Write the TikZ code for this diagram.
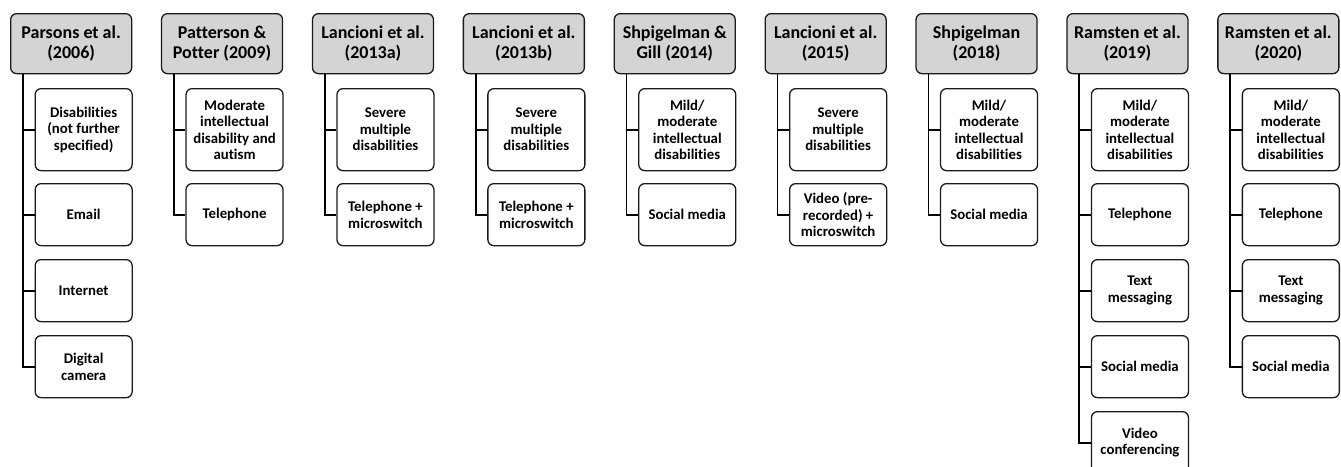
\documentclass[tikz,border=0pt]{standalone}
\usepackage{fontspec}
\setmainfont[Ligatures=NoCommon]{Carlito}
\usetikzlibrary{calc}
\definecolor{hdrgray}{HTML}{D4D4D4}
\definecolor{boxline}{HTML}{1A1A1A}
\tikzset{
  hdr/.style={draw=boxline, line width=1.3pt, fill=hdrgray, rounded corners=6pt,
    anchor=north west, minimum width=121pt, minimum height=60pt, inner sep=0pt,
    align=center, font=\bfseries\fontsize{18}{20}\selectfont},
  leaf/.style={draw=boxline, line width=1.3pt, fill=white, rounded corners=6pt,
    anchor=north west, minimum width=97pt, minimum height=62pt, inner sep=0pt,
    align=center, font=\bfseries\fontsize{14.8}{16.5}\selectfont},
  leaftall/.style={leaf, minimum height=82pt},
  conn/.style={draw=black, line width=1.7pt}
}
\begin{document}
\begin{tikzpicture}[x=1pt,y=-1pt]
\useasboundingbox (0,0) rectangle (1341,466);
\clip (0,0) rectangle (1341,466);
% headers
\node[hdr] (h1) at (10,13) {Parsons et al.\\(2006)};
\node[hdr] (h2) at (160.9,13) {Patterson \&\\Potter (2009)};
\node[hdr] (h3) at (311.8,13) {Lancioni et al.\\(2013a)};
\node[hdr] (h4) at (462.7,13) {Lancioni et al.\\(2013b)};
\node[hdr] (h5) at (613.6,13) {Shpigelman \&\\Gill (2014)};
\node[hdr] (h6) at (764.5,13) {Lancioni et al.\\(2015)};
\node[hdr] (h7) at (915.4,13) {Shpigelman\\(2018)};
\node[hdr] (h8) at (1066.3,13) {Ramsten et al.\\(2019)};
\node[hdr] (h9) at (1217.2,13) {Ramsten et al.\\(2020)};
\foreach \i in {1,...,9}{\coordinate (t\i) at ($(h\i.south west)+(13,0)$);}
% column 1
\node[leaftall] (c1a) at (34.5,88) {Disabilities\\(not further\\specified)};
\node[leaf] (c1b) at (34.5,183) {Email};
\node[leaf] (c1c) at (34.5,259) {Internet};
\node[leaf] (c1d) at (34.5,335) {Digital\\camera};
% column 2
\node[leaftall] (c2a) at (185.4,88) {Moderate\\intellectual\\disability and\\autism};
\node[leaf] (c2b) at (185.4,183) {Telephone};
% column 3
\node[leaftall] (c3a) at (336.3,88) {Severe\\multiple\\disabilities};
\node[leaf] (c3b) at (336.3,183) {Telephone +\\microswitch};
% column 4
\node[leaftall] (c4a) at (487.2,88) {Severe\\multiple\\disabilities};
\node[leaf] (c4b) at (487.2,183) {Telephone +\\microswitch};
% column 5
\node[leaftall] (c5a) at (638.1,88) {Mild/\\moderate\\intellectual\\disabilities};
\node[leaf] (c5b) at (638.1,183) {Social media};
% column 6
\node[leaftall] (c6a) at (789,88) {Severe\\multiple\\disabilities};
\node[leaf] (c6b) at (789,183) {Video (pre-\\recorded) +\\microswitch};
% column 7
\node[leaftall] (c7a) at (939.9,88) {Mild/\\moderate\\intellectual\\disabilities};
\node[leaf] (c7b) at (939.9,183) {Social media};
% column 8
\node[leaftall] (c8a) at (1090.8,88) {Mild/\\moderate\\intellectual\\disabilities};
\node[leaf] (c8b) at (1090.8,183) {Telephone};
\node[leaf] (c8c) at (1090.8,259) {Text\\messaging};
\node[leaf] (c8d) at (1090.8,335) {Social media};
\node[leaf] (c8e) at (1090.8,411) {Video\\conferencing};
% column 9
\node[leaftall] (c9a) at (1241.7,88) {Mild/\\moderate\\intellectual\\disabilities};
\node[leaf] (c9b) at (1241.7,183) {Telephone};
\node[leaf] (c9c) at (1241.7,259) {Text\\messaging};
\node[leaf] (c9d) at (1241.7,335) {Social media};
% connectors
\draw[conn] (t1) |- (c1d.west);
\foreach \c in {a,b,c}{\draw[conn] (t1 |- c1\c.west) -- (c1\c.west);}
\draw[conn] (t2) |- (c2b.west); \draw[conn] (t2 |- c2a.west) -- (c2a.west);
\draw[conn] (t3) |- (c3b.west); \draw[conn] (t3 |- c3a.west) -- (c3a.west);
\draw[conn] (t4) |- (c4b.west); \draw[conn] (t4 |- c4a.west) -- (c4a.west);
\draw[conn] (t5) |- (c5b.west); \draw[conn] (t5 |- c5a.west) -- (c5a.west);
\draw[conn] (t6) |- (c6b.west); \draw[conn] (t6 |- c6a.west) -- (c6a.west);
\draw[conn] (t7) |- (c7b.west); \draw[conn] (t7 |- c7a.west) -- (c7a.west);
\draw[conn] (t8) |- (c8e.west);
\foreach \c in {a,b,c,d}{\draw[conn] (t8 |- c8\c.west) -- (c8\c.west);}
\draw[conn] (t9) |- (c9d.west);
\foreach \c in {a,b,c}{\draw[conn] (t9 |- c9\c.west) -- (c9\c.west);}
\end{tikzpicture}
\end{document}
